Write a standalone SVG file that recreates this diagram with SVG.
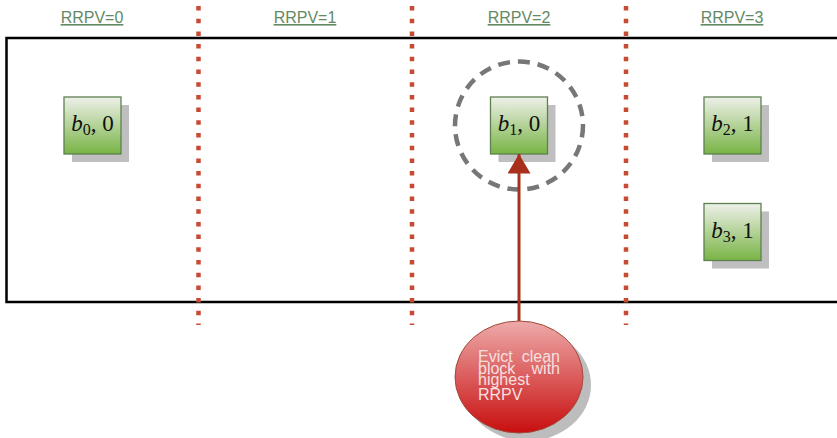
<svg xmlns="http://www.w3.org/2000/svg" width="837" height="438" viewBox="0 0 837 438">
<defs>
<linearGradient id="gb" x1="0" y1="0" x2="0" y2="1">
<stop offset="0" stop-color="#eef0ea"/>
<stop offset="1" stop-color="#78b444"/>
</linearGradient>
<linearGradient id="gr" x1="0" y1="0" x2="0" y2="1">
<stop offset="0" stop-color="#eeaaaa"/>
<stop offset="1" stop-color="#c80e0e"/>
</linearGradient>
<marker id="ah" markerWidth="27" markerHeight="23" refX="23" refY="13.5" orient="auto" markerUnits="userSpaceOnUse" viewBox="0 0 23 27">
<path d="M0,0 L23,13.5 L0,27 Z" fill="#a8301c"/>
</marker>
</defs>
<style>
.lbl{font-family:"Liberation Sans",Arial,sans-serif;font-size:16px;fill:#638a63;text-decoration:underline;text-anchor:middle}
.sep{stroke:#c84a35;stroke-width:4.5;stroke-dasharray:4.5 8.2;fill:none}
.box{fill:url(#gb);stroke:#5e8050;stroke-width:1.3}
.sh{fill:#bfbfbf}
.mt{font-family:"Liberation Serif","Times New Roman",serif;font-size:23px;fill:#111;text-anchor:middle}
.ev{font-family:"Liberation Sans",Arial,sans-serif;font-size:16px;fill:#f6e0e0}
</style>
<rect x="6.5" y="38" width="840" height="264" fill="none" stroke="#000" stroke-width="2.5"/>
<g id="labels">
<text class="lbl" x="92" y="23">RRPV=0</text>
<text class="lbl" x="305" y="23">RRPV=1</text>
<text class="lbl" x="519" y="23">RRPV=2</text>
<text class="lbl" x="732" y="23">RRPV=3</text>
</g>
<g id="separators">
<line class="sep" x1="198.5" y1="6" x2="198.5" y2="325"/>
<line class="sep" x1="412" y1="6" x2="412" y2="325"/>
<line class="sep" x1="626" y1="6" x2="626" y2="325"/>
</g>
<g id="b0">
<rect class="sh" x="72" y="105" width="57" height="57"/>
<rect class="box" x="64" y="97" width="57" height="57"/>
<text class="mt" x="92.5" y="131"><tspan font-style="italic">b</tspan><tspan font-size="16" dy="4">0</tspan><tspan dy="-4">, 0</tspan></text>
</g>
<g id="b1">
<rect class="sh" x="498.5" y="105" width="57" height="57"/>
<rect class="box" x="490.5" y="97" width="57" height="57"/>
<text class="mt" x="519" y="131"><tspan font-style="italic">b</tspan><tspan font-size="16" dy="4">1</tspan><tspan dy="-4">, 0</tspan></text>
</g>
<g id="b2">
<rect class="sh" x="712" y="105" width="57" height="57"/>
<rect class="box" x="704" y="97" width="57" height="57"/>
<text class="mt" x="732.5" y="131"><tspan font-style="italic">b</tspan><tspan font-size="16" dy="4">2</tspan><tspan dy="-4">, 1</tspan></text>
</g>
<g id="b3">
<rect class="sh" x="712" y="211.5" width="57" height="57"/>
<rect class="box" x="704" y="203.5" width="57" height="57"/>
<text class="mt" x="732.5" y="237.5"><tspan font-style="italic">b</tspan><tspan font-size="16" dy="4">3</tspan><tspan dy="-4">, 1</tspan></text>
</g>
<g id="highlight">
<circle cx="519" cy="125.5" r="64" fill="none" stroke="#777" stroke-width="4.5" stroke-dasharray="12 8"/>
</g>
<g id="connectors">
<line x1="519" y1="321" x2="519" y2="154" stroke="#a8301c" stroke-width="3" marker-end="url(#ah)"/>
</g>
<g id="evict">
<ellipse cx="527" cy="385" rx="64" ry="56" fill="#bdbdbd"/>
<ellipse cx="519" cy="377" rx="64" ry="56" fill="url(#gr)" stroke="#a04a3a" stroke-width="1"/>
<text class="ev" x="478" y="362">Evict</text>
<text class="ev" x="560" y="362" text-anchor="end">clean</text>
<text class="ev" x="478" y="373.5">block</text>
<text class="ev" x="560" y="373.5" text-anchor="end">with</text>
<text class="ev" x="478" y="385">highest</text>
<text class="ev" x="478" y="400">RRPV</text>
</g>
</svg>
